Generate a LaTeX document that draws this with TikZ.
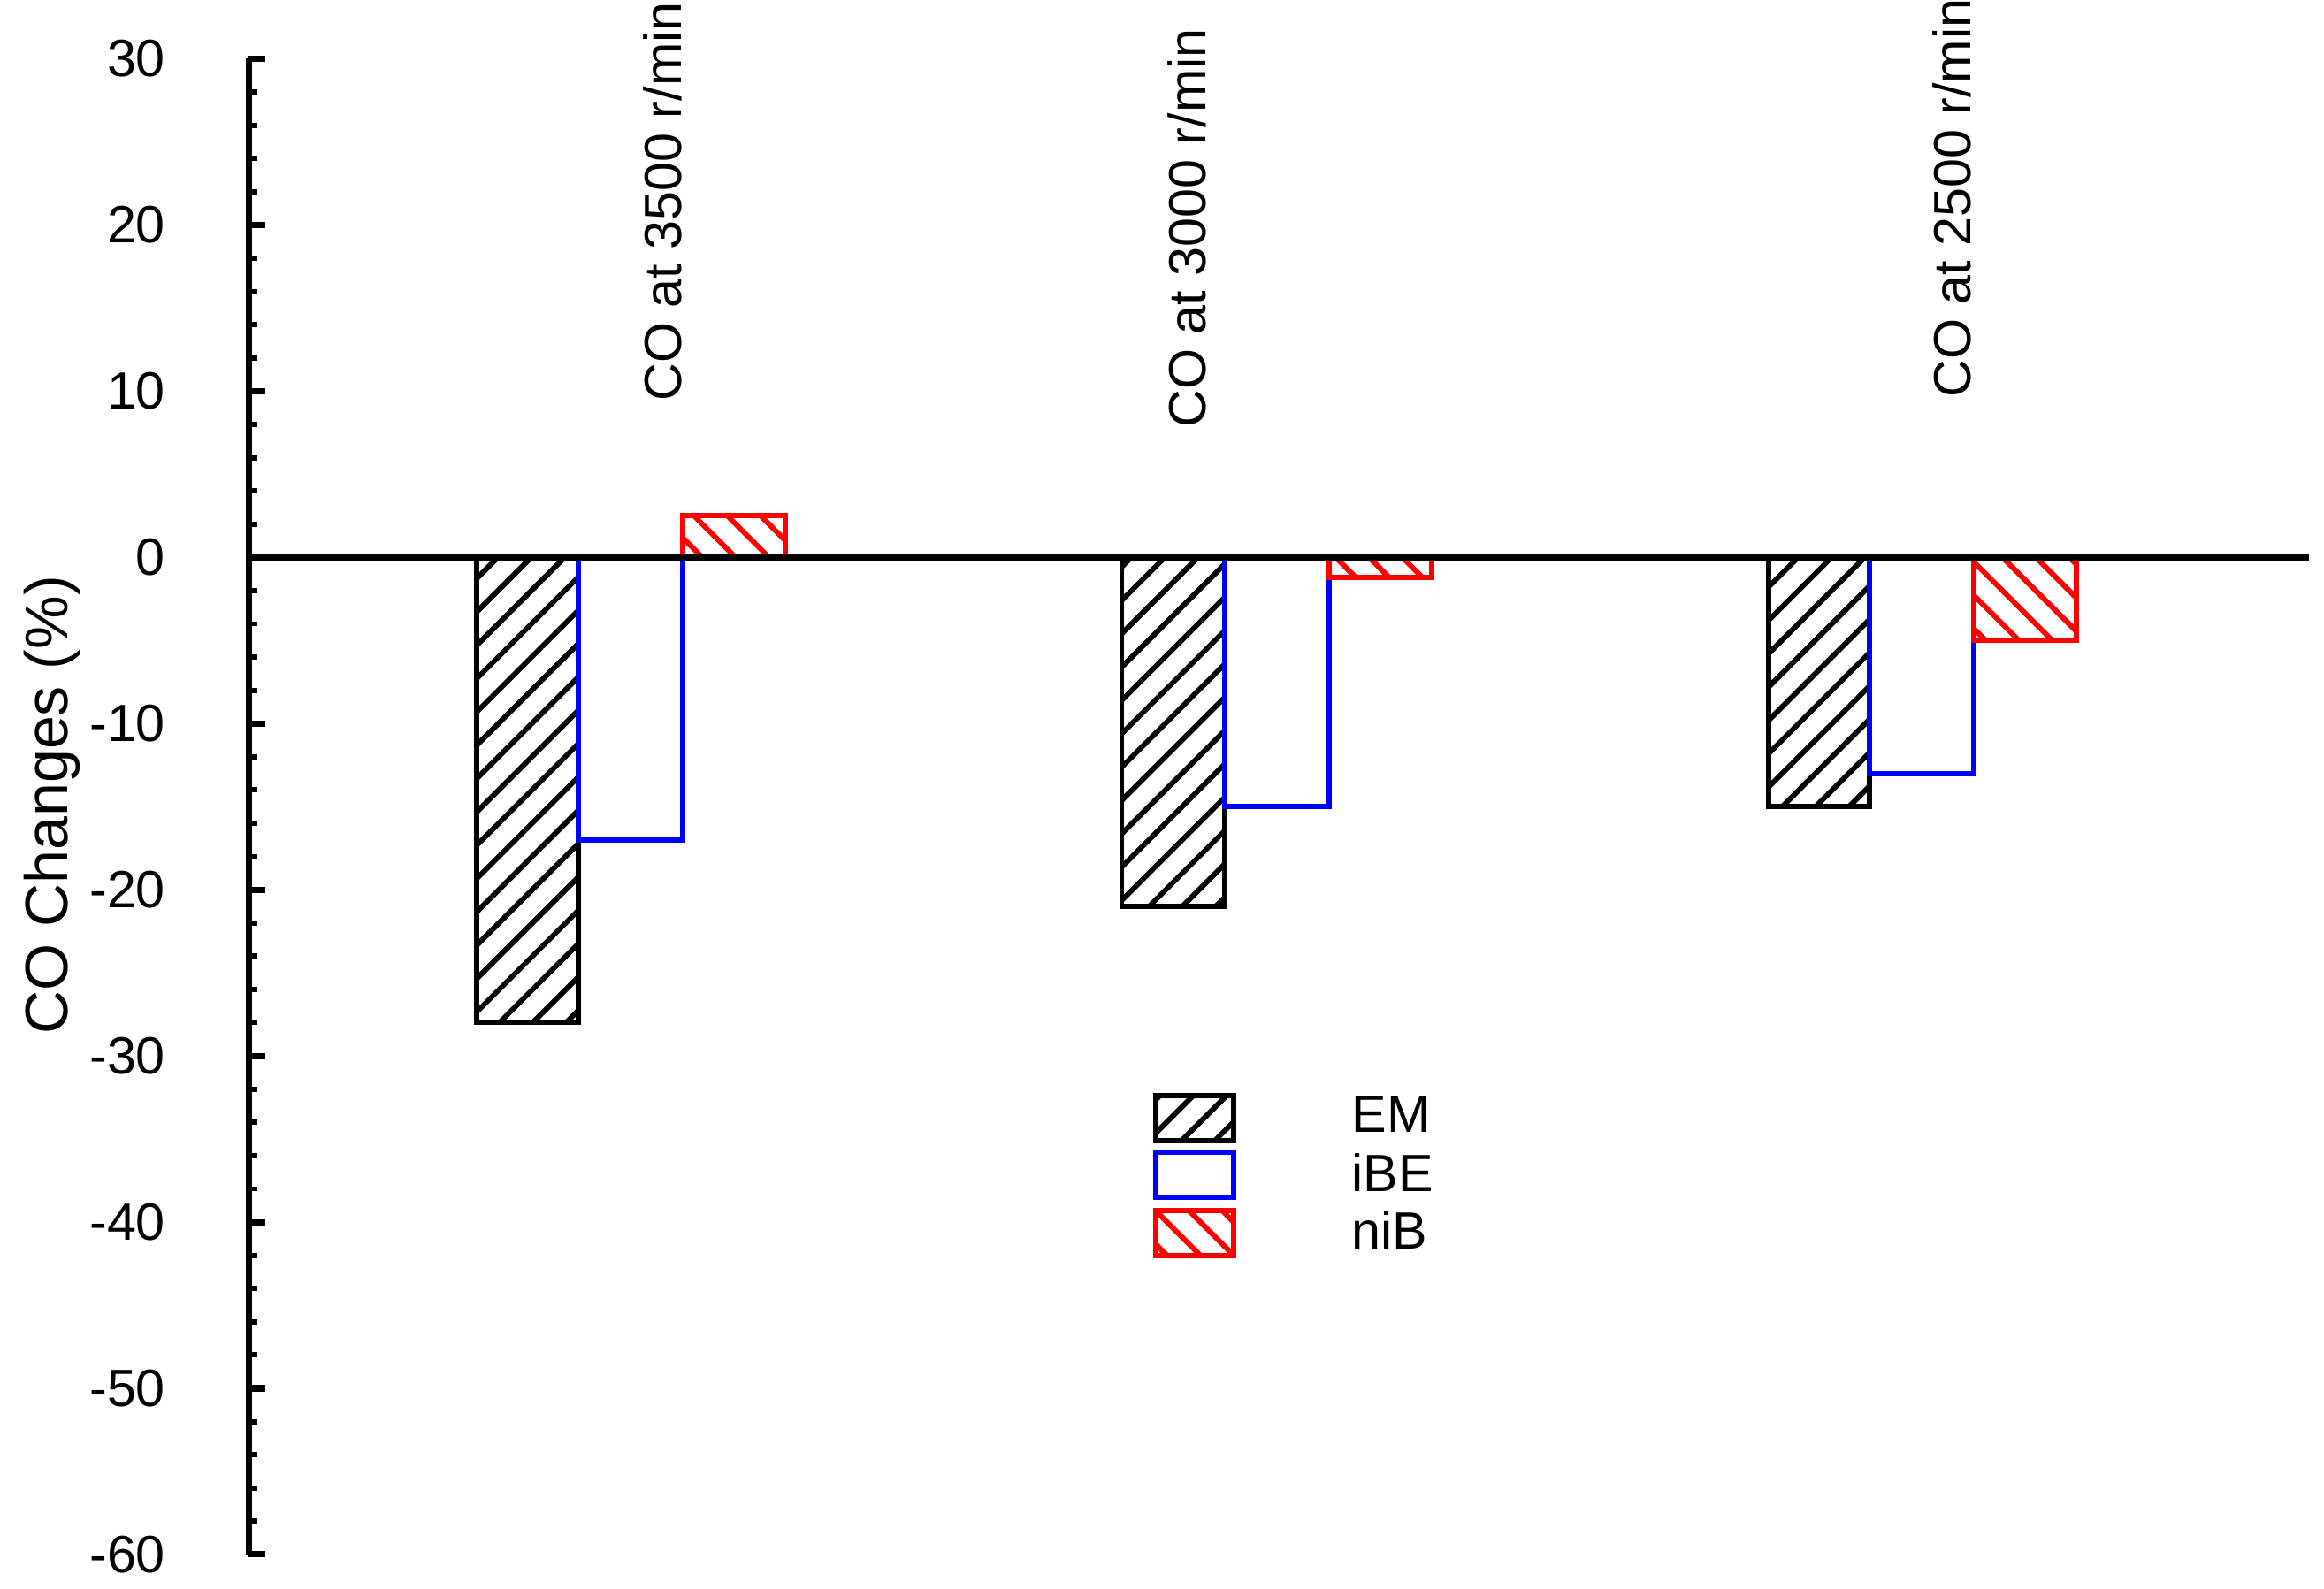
\documentclass[tikz,border=0pt]{standalone}
\usepackage{fontspec}
\setmainfont{Liberation Sans}
\usetikzlibrary{patterns.meta}
\tikzstyle{bar} = [line width=1pt]
\tikzstyle{em} = [bar,draw=black,pattern={Lines[angle=45,distance=4.5pt,line width=1pt]},pattern color=black]
\tikzstyle{ibe} = [bar,draw=blue,fill=white]
\tikzstyle{nib} = [bar,draw=red,pattern={Lines[angle=-45,distance=4.5pt,line width=1pt]},pattern color=red]
\tikzstyle{tick} = [font=\fontsize{10}{12}\selectfont,anchor=east]
\begin{document}
\begin{tikzpicture}[x=0.01cm,y=0.1115cm]
    \useasboundingbox (0,-62.06) rectangle (1560,33.54);
    % axis
    \coordinate (top) at (167,30);
    \coordinate (bot) at (167,-60);
    \draw[line width=1.2pt] (top) -- (bot);
    \foreach \v in {30,20,...,-60}
        \draw[line width=1.2pt] (167,\v) -- (178,\v) node[tick,pos=0,xshift=-12pt] {\v};
    \foreach \v in {28,26,...,-58}
        \draw[line width=1pt] (167,\v) -- (173,\v);
    \node[rotate=90,font=\fontsize{11.5}{13}\selectfont] (ytitle) at (35,-14.9) {CO Changes (\%)};
    % bars
    \draw[em] (320,0) rectangle (388,-28);
    \draw[ibe] (388,0) rectangle (458,-17);
    \draw[nib] (458,0) rectangle (527,2.5);
    \draw[em] (753,0) rectangle (822,-21);
    \draw[ibe] (822,0) rectangle (892,-15);
    \draw[nib] (892,0) rectangle (961,-1.2);
    \draw[em] (1187,0) rectangle (1255,-15);
    \draw[ibe] (1255,0) rectangle (1325,-13);
    \draw[nib] (1325,0) rectangle (1394,-5);
    % zero line
    \coordinate (zl) at (167,0);
    \coordinate (zr) at (1550,0);
    \draw[line width=1.2pt] (zl) -- (zr);
    % group labels
    \foreach \x/\r/\b in {445/3500/8.3,797/3000/6.7,1310/2500/8.5}
        \node[rotate=90,anchor=west,font=\fontsize{10}{12}\selectfont] (g\r) at (\x,\b) {CO at \r\ r/min};
    % legend
    \draw[em] (776,-32.4) rectangle (828,-35.1);
    \draw[ibe] (776,-35.8) rectangle (828,-38.5);
    \draw[nib] (776,-39.3) rectangle (828,-42.0);
    \node[anchor=west,font=\fontsize{10}{12}\selectfont] (lem) at (895,-33.5) {EM};
    \node[anchor=west,font=\fontsize{10}{12}\selectfont] (libe) at (895,-37.0) {iBE};
    \node[anchor=west,font=\fontsize{10}{12}\selectfont] (lnib) at (895,-40.5) {niB};
\end{tikzpicture}
\end{document}
